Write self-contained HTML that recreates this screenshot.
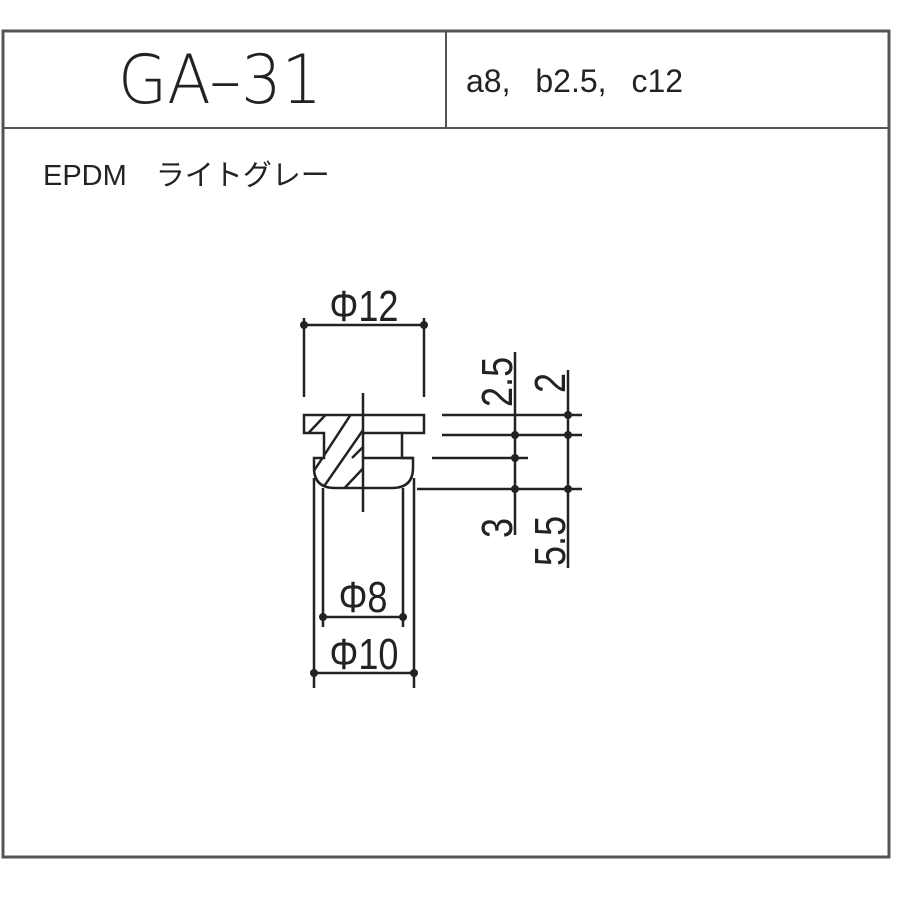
<!DOCTYPE html>
<html><head><meta charset="utf-8"><style>
html,body{margin:0;padding:0;background:#fff;}
svg{display:block;}
text{font-family:"Liberation Sans","Noto Sans CJK JP",sans-serif;fill:#222;}
</style></head><body>
<svg width="900" height="900" viewBox="0 0 900 900" xmlns="http://www.w3.org/2000/svg">
<defs>
<clipPath id="hc">
<path d="M304,415 H363 V447 L352,458 H363 V488 H335 Q314,488 314,468 V458 H324 V433 H304 Z"/>
</clipPath>
</defs>
<rect x="3" y="31" width="886" height="826" fill="none" stroke="#555" stroke-width="3"/>
<line x1="3" y1="128" x2="889" y2="128" stroke="#555" stroke-width="2"/>
<line x1="446" y1="31" x2="446" y2="128" stroke="#555" stroke-width="2"/>
<text x="118" y="103" font-size="68" style="font-family:'DejaVu Sans','Liberation Sans',sans-serif;font-weight:200" textLength="204" lengthAdjust="spacingAndGlyphs">GA–31</text>
<text x="466" y="92" font-size="32" word-spacing="16">a8, b2.5, c12</text>
<text x="43" y="185" font-size="29">EPDM　ライトグレー</text>

<g stroke="#222" stroke-width="2.5" fill="none">
<g clip-path="url(#hc)" stroke-width="2.5">
<line x1="297" y1="445" x2="335" y2="405"/>
<line x1="308" y1="480" x2="357" y2="405"/>
<line x1="318" y1="495" x2="370" y2="420"/>
<line x1="337" y1="496" x2="370" y2="461"/>
</g>
<path d="M304,415 H424 V433 H402 V458 H413 V468 Q413,488 392,488 H335 Q314,488 314,468 V458 H324 V433 H304 Z"/>
<path d="M363,433 H402 M363,458 H413"/>
<path d="M363,447 L352,458"/>
<line x1="363" y1="393" x2="363" y2="512"/>
<line x1="304" y1="318" x2="304" y2="397"/>
<line x1="424" y1="318" x2="424" y2="397"/>
<line x1="304" y1="325" x2="424" y2="325"/>
<line x1="314" y1="478" x2="314" y2="688"/>
<line x1="414" y1="478" x2="414" y2="688"/>
<line x1="323" y1="488" x2="323" y2="627"/>
<line x1="403" y1="488" x2="403" y2="627"/>
<line x1="323" y1="617" x2="403" y2="617"/>
<line x1="314" y1="673" x2="414" y2="673"/>
<line x1="442" y1="415" x2="582" y2="415"/>
<line x1="442" y1="435" x2="582" y2="435"/>
<line x1="432" y1="458" x2="528" y2="458"/>
<line x1="417" y1="489" x2="582" y2="489"/>
<line x1="515" y1="352" x2="515" y2="535"/>
<line x1="568" y1="370" x2="568" y2="568"/>
</g>
<g fill="#222">
<circle cx="304" cy="325" r="4"/><circle cx="424" cy="325" r="4"/>
<circle cx="323" cy="617" r="4"/><circle cx="403" cy="617" r="4"/>
<circle cx="314" cy="673" r="4"/><circle cx="414" cy="673" r="4"/>
<circle cx="568" cy="415" r="4"/><circle cx="515" cy="435" r="4"/><circle cx="568" cy="435" r="4"/>
<circle cx="515" cy="458" r="4"/><circle cx="515" cy="489" r="4"/><circle cx="568" cy="489" r="4"/>
</g>
<g font-size="44">
<text transform="translate(364,321) scale(0.82,1)" text-anchor="middle">Φ12</text>
<text transform="translate(363,612) scale(0.82,1)" text-anchor="middle">Φ8</text>
<text transform="translate(364,669) scale(0.82,1)" text-anchor="middle">Φ10</text>
<text transform="translate(512,407) rotate(-90) scale(0.82,1)">2.5</text>
<text transform="translate(512,538) rotate(-90) scale(0.82,1)">3</text>
<text transform="translate(565,393) rotate(-90) scale(0.82,1)">2</text>
<text transform="translate(565,566) rotate(-90) scale(0.82,1)">5.5</text>
</g>
</svg>
</body></html>
